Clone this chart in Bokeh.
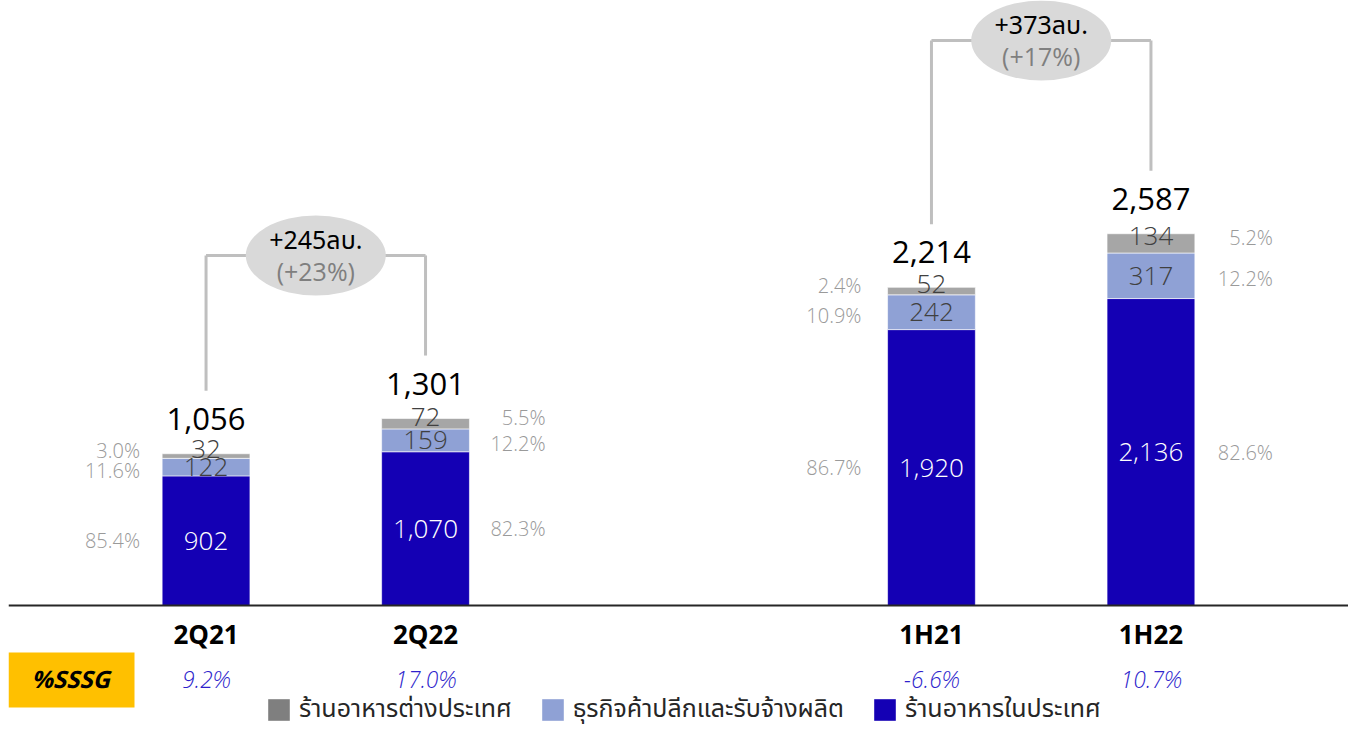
from bokeh.plotting import figure
from bokeh.models import (ColumnDataSource, FactorRange, Range1d, Span, Legend,
                          LegendItem, BoxAnnotation, Label)
from bokeh.core.properties import value
from bokeh.embed import file_html
from bokeh.resources import INLINE

# ---------------- data ----------------
groups = ["2Q", "2Q", "1H", "1H"]
periods = ["2Q21", "2Q22", "1H21", "1H22"]
domestic = [902, 1070, 1920, 2136]      # ร้านอาหารในประเทศ
retail = [122, 159, 242, 317]           # ธุรกิจค้าปลีกและรับจ้างผลิต
foreign = [32, 72, 52, 134]             # ร้านอาหารต่างประเทศ
pct_domestic = ["85.4%", "82.3%", "86.7%", "82.6%"]
pct_retail = ["11.6%", "12.2%", "10.9%", "12.2%"]
pct_foreign = ["3.0%", "5.5%", "2.4%", "5.2%"]
sssg = ["9.2%", "17.0%", "-6.6%", "10.7%"]
series_names = ["ร้านอาหารในประเทศ", "ธุรกิจค้าปลีกและรับจ้างผลิต", "ร้านอาหารต่างประเทศ"]

# ---------------- layout constants ----------------
W, H = 1348, 729
LEFT_BORDER = 8
K = 0.1437                 # pixels per unit (value axis)
BASE_PX = 124              # pixels below the zero line
def px(n):
    return n / K

BRACKET_TOP = {"2Q": 2436, "1H": 3932}
PCT_XOFF = [-66, 120, -70, 122]

C_DOM = "#1400B4"
C_RET = "#8FA1D5"
C_FOR = "#A6A6A6"
FONT = "Noto Sans Thai, Open Sans, Noto Sans, sans-serif"
NUMFONT = "Open Sans Light, Open Sans, sans-serif"

x = list(zip(groups, periods))
totals = [a + b + c for a, b, c in zip(domestic, retail, foreign)]

src = ColumnDataSource(dict(x=x, dom=domestic, ret=retail, fgn=foreign))

p = figure(width=W, height=H, output_backend="svg", toolbar_location=None,
           x_range=FactorRange(*x, factor_padding=0.0, group_padding=1.305,
                               range_padding=0.4, range_padding_units="absolute"),
           y_range=Range1d(-BASE_PX / K, (H - BASE_PX) / K),
           min_border=0, min_border_left=LEFT_BORDER, outline_line_color=None)
p.axis.visible = False
p.grid.visible = False
p.background_fill_color = "white"
p.border_fill_color = "white"

rs = p.vbar_stack(["dom", "ret", "fgn"], x="x", width=0.4, source=src,
                  color=[C_DOM, C_RET, C_FOR], line_color="white", line_width=0.6)

p.add_layout(Span(location=0, dimension="width", line_color="#262626", line_width=2))

# ---------- segment value labels ----------
y_dom = [d / 2 for d in domestic]
y_ret = [d + r / 2 for d, r in zip(domestic, retail)]
y_for = [d + r + f / 2 + px(7) for d, r, f in zip(domestic, retail, foreign)]
fmt = lambda v: f"{v:,}"

lab = ColumnDataSource(dict(
    x=x, y_dom=y_dom, y_ret=y_ret, y_for=y_for,
    t_dom=[fmt(v) for v in domestic], t_ret=[fmt(v) for v in retail],
    t_for=[fmt(v) for v in foreign],
    p_dom=pct_domestic, p_ret=pct_retail, p_for=pct_foreign,
    py_dom=y_dom, py_ret=[v - px(3) for v in y_ret],
    py_for=[d + r + f / 2 + px(6) for d, r, f in zip(domestic, retail, foreign)],
    xoff=PCT_XOFF,
    y_tot=[t + px(35) for t in totals], t_tot=[fmt(t) for t in totals],
    y_cat=[-px(28)] * 4, cat=periods,
    y_sssg=[-px(73)] * 4, sssg=sssg,
))

p.text(x="x", y="y_dom", text="t_dom", source=lab, text_color="white",
       text_font=value(NUMFONT), text_font_size="26px", text_align="center",
       text_baseline="middle")
for yc, tc in (("y_ret", "t_ret"), ("y_for", "t_for")):
    p.text(x="x", y=yc, text=tc, source=lab, text_color="#404040",
           text_font=value(NUMFONT), text_font_size="26px", text_align="center",
           text_baseline="middle")
for yc, tc in (("py_dom", "p_dom"), ("py_ret", "p_ret"), ("py_for", "p_for")):
    p.text(x="x", y=yc, text=tc, source=lab, x_offset="xoff", text_color="#9A9A9A",
           text_font=value(NUMFONT), text_font_size="20px", text_align="right",
           text_baseline="middle")

p.text(x="x", y="y_tot", text="t_tot", source=lab, text_color="black",
       text_font=value("Open Sans"), text_font_size="31px", text_align="center",
       text_baseline="alphabetic")
p.text(x="x", y="y_cat", text="cat", source=lab, text_color="black",
       text_font=value("Open Sans"), text_font_style="bold", text_font_size="26px",
       text_align="center", text_baseline="middle")
p.text(x="x", y="y_sssg", text="sssg", source=lab, text_color="#2E1FCC",
       text_font=value(NUMFONT), text_font_style="italic", text_font_size="23px",
       text_align="center", text_baseline="middle")

# ---------- brackets with change bubbles ----------
g_names = ["2Q", "1H"]
bx0, by0, bx1, by1 = [], [], [], []
bub_x, bub_y, bub_t1, bub_t2, t1y, t2y = [], [], [], [], [], []
for g in g_names:
    idx = [i for i, gg in enumerate(groups) if gg == g]
    a, b = idx
    top = BRACKET_TOP[g]
    bx0 += [x[a], x[a], x[b]]
    bx1 += [x[a], x[b], x[b]]
    by0 += [totals[a] + px(63), top, totals[b] + px(63)]
    by1 += [top, top, top]
    diff = totals[b] - totals[a]
    bub_x.append(g)
    bub_y.append(top)
    bub_t1.append(f"+{diff:,}ลบ.")
    bub_t2.append(f"(+{round(diff / totals[a] * 100)}%)")
    t1y.append(top + px(14))
    t2y.append(top - px(16))

p.segment(x0=bx0, y0=by0, x1=bx1, y1=by1, line_color="#BFBFBF", line_width=3)
bsrc = ColumnDataSource(dict(x=bub_x, y=bub_y, t1=bub_t1, t2=bub_t2, y1=t1y, y2=t2y))
p.ellipse(x="x", y="y", width=140, height=80, width_units="screen",
          height_units="screen", source=bsrc, fill_color="#D9D9D9", line_color=None)
p.text(x="x", y="y1", text="t1", source=bsrc, text_color="black",
       text_font=value(FONT), text_font_size="25px", text_align="center",
       text_baseline="middle")
p.text(x="x", y="y2", text="t2", source=bsrc, text_color="#7F7F7F",
       text_font=value("Open Sans"), text_font_size="25px", text_align="center",
       text_baseline="middle")

# ---------- %SSSG box ----------
p.add_layout(BoxAnnotation(left=0, right=126, bottom=22, top=77,
                           left_units="screen", right_units="screen",
                           bottom_units="screen", top_units="screen",
                           fill_color="#FFC000", fill_alpha=1, line_color=None))
p.add_layout(Label(x=62, y=49, x_units="screen", y_units="screen", text="%SSSG",
                   text_font=FONT, text_font_style="bold italic",
                   text_font_size="24px", text_align="center",
                   text_baseline="middle", text_color="black"))

# ---------- legend ----------
leg_src = ColumnDataSource(dict(x=[x[0]], top=[0]))
leg_cols = ["#7F7F7F", C_RET, C_DOM]
leg_r = [p.vbar(x="x", top="top", bottom=0, width=0.4, source=leg_src,
                fill_color=c, line_color=None) for c in leg_cols]
legend = Legend(items=[LegendItem(label=series_names[2], renderers=[leg_r[0]]),
                       LegendItem(label=series_names[1], renderers=[leg_r[1]]),
                       LegendItem(label=series_names[0], renderers=[leg_r[2]])],
                orientation="horizontal", location=(257, 1),
                background_fill_alpha=0, border_line_color=None,
                glyph_width=27, glyph_height=27, label_height=22,
                label_text_font=FONT, label_text_font_size="25px",
                label_text_color="#262626", label_standoff=7, spacing=27,
                padding=0, margin=0)
p.add_layout(legend)

open("out.html", "w").write(file_html(p, INLINE))
